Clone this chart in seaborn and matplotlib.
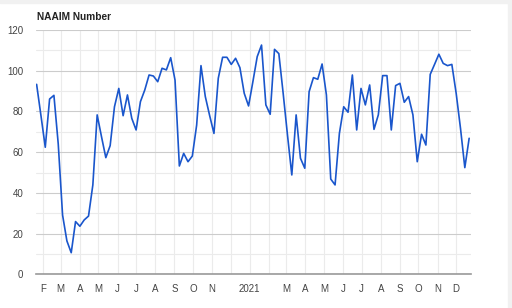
import matplotlib
matplotlib.use("Agg")
import matplotlib.pyplot as plt
import matplotlib.dates as mdates
import seaborn as sns
import pandas as pd
import numpy as np
from matplotlib.patches import Rectangle

title = "NAAIM Number"
start_date = "2020-01-22"
values_2020 = [93.3, 78, 62.4, 86.1, 87.9, 64, 29.1, 16.4, 10.6, 25.9, 23.6, 26.7, 28.6,
               43.9, 78.3, 67.6, 57.3, 63.2, 82.3, 91.3, 77.9, 88.1, 76.6, 70.9, 84.8,
               90.5, 97.9, 97.4, 94.6, 101.2, 100.4, 106.4, 95.4, 53.2, 59.4, 55.3, 58.1,
               73.3, 102.5, 87.3, 78, 69.2, 96.3, 106.6, 106.6, 103.1, 106.1, 101.5, 88.9, 82.7]
values_2021 = [94.6, 106.9, 112.6, 83.2, 78.6, 110.5, 108.4, 88.9, 68.4, 48.8, 78.3, 57.0,
               52.1, 89.7, 96.6, 95.8, 103.3, 88.1, 46.8, 43.9, 69.2, 82.3, 79.6, 97.9, 70.9,
               91.3, 83.2, 93.0, 71.2, 78.3, 97.6, 97.6, 70.9, 92.7, 93.8, 84.5, 87.3, 78.3,
               55.3, 68.8, 63.5, 98.2, 103.1, 108.1, 103.6, 102.5, 103.1, 88.9, 71.7, 52.4, 66.8]
month_labels = ["F", "M", "A", "M", "J", "J", "A", "S", "O", "N", "", "2021",
                "", "M", "A", "M", "J", "J", "A", "S", "O", "N", "D"]
y_ticks = [0, 20, 40, 60, 80, 100, 120]

values = values_2020 + values_2021
dates = pd.date_range(start_date, periods=len(values), freq="7D")
df = pd.DataFrame({"date": dates, "value": values})

sns.set_theme(style="white")
plt.rcParams["font.family"] = ["Liberation Sans", "DejaVu Sans"]

fig = plt.figure(figsize=(5.12, 3.08), dpi=100)
fig.patch.set_facecolor("white")
# light outer frame like the screenshot
fig.patches.append(Rectangle((0, 0.99), 1, 0.01, transform=fig.transFigure,
                             color="#f1f1f1", zorder=0))
fig.patches.append(Rectangle((0.992, 0), 0.008, 1, transform=fig.transFigure,
                             color="#f1f1f1", zorder=0))

W, H = 512, 308
ax = fig.add_axes([36 / W, (H - 274.3) / H, (471 - 36) / W, (274.3 - 30) / H])

sns.lineplot(data=df, x="date", y="value", ax=ax, color="#1a56cc", linewidth=1.2, zorder=3)

ax.set_xlim(pd.Timestamp("2020-01-21"), pd.Timestamp("2021-12-25"))
ax.set_ylim(0, 120)

month_ticks = pd.date_range("2020-02-01", "2021-12-01", freq="MS")
ax.set_xticks(month_ticks)
ax.set_xticklabels(month_labels)
ax.set_yticks(y_ticks)
ax.set_yticklabels([str(v) for v in y_ticks])
ax.set_yticks(np.arange(10, 120, 20), minor=True)

ax.grid(True, which="major", axis="y", color="#cccccc", linewidth=0.8)
ax.grid(True, which="minor", axis="y", color="#ebebeb", linewidth=0.8)
ax.grid(True, which="major", axis="x", color="#ebebeb", linewidth=0.8)

for s in ["left", "right", "top"]:
    ax.spines[s].set_visible(False)
ax.spines["bottom"].set_color("#999999")
ax.spines["bottom"].set_linewidth(1.2)

ax.tick_params(axis="both", which="both", length=0, labelsize=7, labelcolor="#444444")
ax.tick_params(axis="x", pad=7)
ax.tick_params(axis="y", pad=9)
ax.set_xlabel("")
ax.set_ylabel("")

fig.text(37 / W, 1 - 17 / H, title, fontsize=7.3, fontweight="bold", color="#222222",
         ha="left", va="center")

fig.savefig("out.png", dpi=100, facecolor="white")
